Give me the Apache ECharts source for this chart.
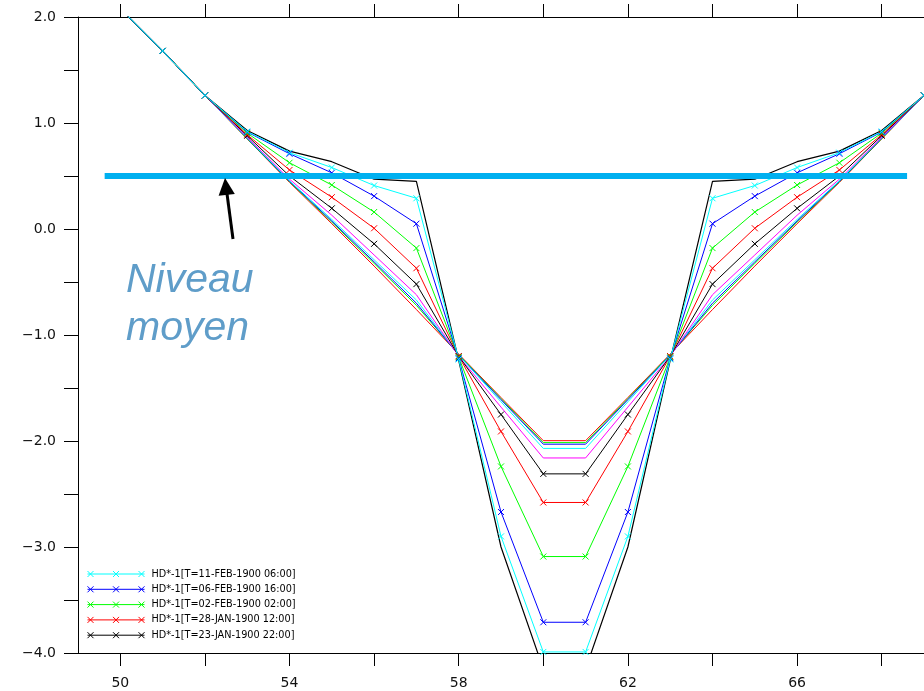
<!DOCTYPE html>
<html><head><meta charset="utf-8">
<script src="https://cdn.jsdelivr.net/npm/echarts@6/dist/echarts.min.js"></script>
<style>html,body{margin:0;padding:0;background:#fff}#c{width:924px;height:691px}</style>
</head><body><div id="c"></div>
<script>
// ---- data ----
const xValues = [49,50,51,52,53,54,55,56,57,58,59,60,61,62,63,64,65,66,67,68,69];

// series with "x" markers (legend entries)
const cyanMarked  = [2.5,2.08,1.68,1.26,0.92,0.72,0.58,0.41,0.29,-1.23,-2.90,-3.99,-3.99,-2.90,-1.23,0.29,0.41,0.58,0.72,0.92,1.26];
const blueMarked  = [2.5,2.08,1.68,1.26,0.915,0.71,0.53,0.31,0.05,-1.22,-2.67,-3.71,-3.71,-2.67,-1.22,0.05,0.31,0.53,0.71,0.915,1.26];
const greenMarked = [2.5,2.08,1.68,1.26,0.905,0.625,0.415,0.16,-0.18,-1.21,-2.24,-3.09,-3.09,-2.24,-1.21,-0.18,0.16,0.415,0.625,0.905,1.26];
const redMarked   = [2.5,2.08,1.68,1.26,0.89,0.557,0.30,0.007,-0.37,-1.20,-1.91,-2.58,-2.58,-1.91,-1.20,-0.37,0.007,0.30,0.557,0.89,1.26];
const blackMarked = [2.5,2.08,1.68,1.26,0.88,0.50,0.195,-0.14,-0.52,-1.20,-1.75,-2.31,-2.31,-1.75,-1.20,-0.52,-0.14,0.195,0.50,0.88,1.26];

// plain series (no markers, not in legend)
const blackPlain   = [2.5,2.08,1.68,1.26,0.93,0.735,0.635,0.47,0.45,-1.24,-3.00,-4.15,-4.15,-3.00,-1.24,0.45,0.47,0.635,0.735,0.93,1.26];
const magentaPlain = [2.5,2.08,1.68,1.26,0.865,0.47,0.13,-0.245,-0.62,-1.20,-1.68,-2.16,-2.16,-1.68,-1.20,-0.62,-0.245,0.13,0.47,0.865,1.26];
const cyanPlain    = [2.5,2.08,1.68,1.26,0.86,0.455,0.09,-0.29,-0.67,-1.19,-1.63,-2.07,-2.07,-1.63,-1.19,-0.67,-0.29,0.09,0.455,0.86,1.26];
const bluePlain    = [2.5,2.08,1.68,1.26,0.855,0.45,0.075,-0.31,-0.70,-1.19,-1.61,-2.03,-2.03,-1.61,-1.19,-0.70,-0.31,0.075,0.45,0.855,1.26];
const greenPlain   = [2.5,2.08,1.68,1.26,0.852,0.445,0.065,-0.325,-0.72,-1.185,-1.60,-2.015,-2.015,-1.60,-1.185,-0.72,-0.325,0.065,0.445,0.852,1.26];
const redPlain     = [2.5,2.08,1.68,1.26,0.85,0.44,0.05,-0.35,-0.76,-1.18,-1.59,-1.997,-1.997,-1.59,-1.18,-0.76,-0.35,0.05,0.44,0.85,1.26];

const legendNames = [
  'HD*-1[T=11-FEB-1900 06:00]',
  'HD*-1[T=06-FEB-1900 16:00]',
  'HD*-1[T=02-FEB-1900 02:00]',
  'HD*-1[T=28-JAN-1900 12:00]',
  'HD*-1[T=23-JAN-1900 22:00]'
];

// mean level ("Niveau moyen")
const meanLevel = 0.5;
const meanFrom = 49.63;
const meanTo = 68.6;

// axes
const xTickValues = [50,52,54,56,58,60,62,64,66,68];
const xLabelValues = [50,54,58,62,66];
const yTickValues = [-4,-3.5,-3,-2.5,-2,-1.5,-1,-0.5,0,0.5,1,1.5,2];
const yLabelValues = [-4,-3,-2,-1,0,1,2];

// ---- chart ----
const pairs = arr => xValues.map((x, i) => [x, arr[i]]);
const crossPath = 'path://M0,0L6,6M0,6L6,0';
const legendIcon = 'path://M0,3L57,3M0,0L6,6M0,6L6,0M25.5,0L31.5,6M25.5,6L31.5,0M51,0L57,6M51,6L57,0';

function plain(name, color, arr, w) {
  return { name, type: 'line', data: pairs(arr), showSymbol: false, symbol: 'none',
    lineStyle: { color, width: w || 1 }, itemStyle: { color }, z: 2, silent: true };
}
function marked(name, color, arr) {
  return { name, type: 'line', data: pairs(arr), symbol: crossPath, symbolSize: 6, showAllSymbol: true,
    lineStyle: { color, width: 1 }, itemStyle: { color, borderColor: color, borderWidth: 1 }, z: 3, silent: true };
}

const series = [
  plain('p-red', '#ff0000', redPlain),
  plain('p-green', '#00ff00', greenPlain),
  plain('p-blue', '#0000ff', bluePlain),
  plain('p-cyan', '#00ffff', cyanPlain),
  plain('p-magenta', '#ff00ff', magentaPlain),
  plain('p-black', '#000000', blackPlain, 1.2),
  marked(legendNames[4], '#000000', blackMarked),
  marked(legendNames[3], '#ff0000', redMarked),
  marked(legendNames[2], '#00ff00', greenMarked),
  marked(legendNames[1], '#0000ff', blueMarked),
  marked(legendNames[0], '#00ffff', cyanMarked),
  { name: 'mean', type: 'line', data: [[meanFrom, meanLevel], [meanTo, meanLevel]], symbol: 'none',
    lineStyle: { color: '#00b0f0', width: 6, cap: 'butt' }, z: 5, silent: true }
];

const axisFont = { fontFamily: 'DejaVu Sans', fontSize: 14, color: '#111' };
const fmtY = v => (v < 0 ? '\u2212' : '') + Math.abs(v).toFixed(1);

const chart = echarts.init(document.getElementById('c'), null, { renderer: 'canvas' });
chart.setOption({
  animation: false,
  backgroundColor: '#fff',
  grid: { left: 78, top: 17, bottom: 38, right: -4, containLabel: false },
  xAxis: [
    { type: 'value', min: 49, max: 69, position: 'bottom',
      axisLine: { show: true, onZero: false, lineStyle: { color: '#000', width: 1 } },
      axisTick: { show: true, inside: false, length: 13, customValues: xTickValues, lineStyle: { color: '#000' } },
      axisLabel: Object.assign({ show: true, margin: 23, customValues: xLabelValues, formatter: v => String(v) }, axisFont),
      splitLine: { show: false } },
    { type: 'value', min: 49, max: 69, position: 'top',
      axisLine: { show: true, onZero: false, lineStyle: { color: '#000', width: 1 } },
      axisTick: { show: true, inside: false, length: 13, customValues: xTickValues, lineStyle: { color: '#000' } },
      axisLabel: { show: false },
      splitLine: { show: false } }
  ],
  yAxis: [
    { type: 'value', min: -4, max: 2, position: 'left',
      axisLine: { show: true, onZero: false, lineStyle: { color: '#000', width: 1 } },
      axisTick: { show: true, inside: false, length: 14, customValues: yTickValues, lineStyle: { color: '#000' } },
      axisLabel: Object.assign({ show: true, margin: 22, customValues: yLabelValues, formatter: fmtY }, axisFont),
      splitLine: { show: false } }
  ],
  legend: {
    data: legendNames.map(n => ({ name: n, icon: legendIcon })),
    orient: 'vertical', left: 87, top: 569,
    itemWidth: 57, itemHeight: 6, itemGap: 5.3,
    itemStyle: { borderWidth: 1, borderColor: 'inherit' },
    textStyle: { fontFamily: 'DejaVu Sans', fontSize: 9.7, lineHeight: 10, color: '#000', padding: [0, 0, 0, 2] },
    selectedMode: false, padding: 0
  },
  series,
  graphic: [
    { type: 'rect', shape: { x: 74, y: 654.5, width: 8, height: 20 }, style: { fill: '#fff' }, z: 20, silent: true },
    { type: 'line', shape: { x1: 233, y1: 239, x2: 226.5, y2: 190 }, style: { stroke: '#000', lineWidth: 3 }, z: 10 },
    { type: 'polygon', shape: { points: [[225, 178], [234.8, 194], [218.6, 195.8]] }, style: { fill: '#000' }, z: 10 },
    { type: 'text', left: 126, top: 260, style: { text: 'Niveau', font: 'italic 41px "Liberation Sans", Arial, sans-serif', fill: '#5f9dc9' }, z: 10 },
    { type: 'text', left: 126, top: 308, style: { text: 'moyen', font: 'italic 41px "Liberation Sans", Arial, sans-serif', fill: '#5f9dc9' }, z: 10 }
  ]
});
</script>
</body></html>
